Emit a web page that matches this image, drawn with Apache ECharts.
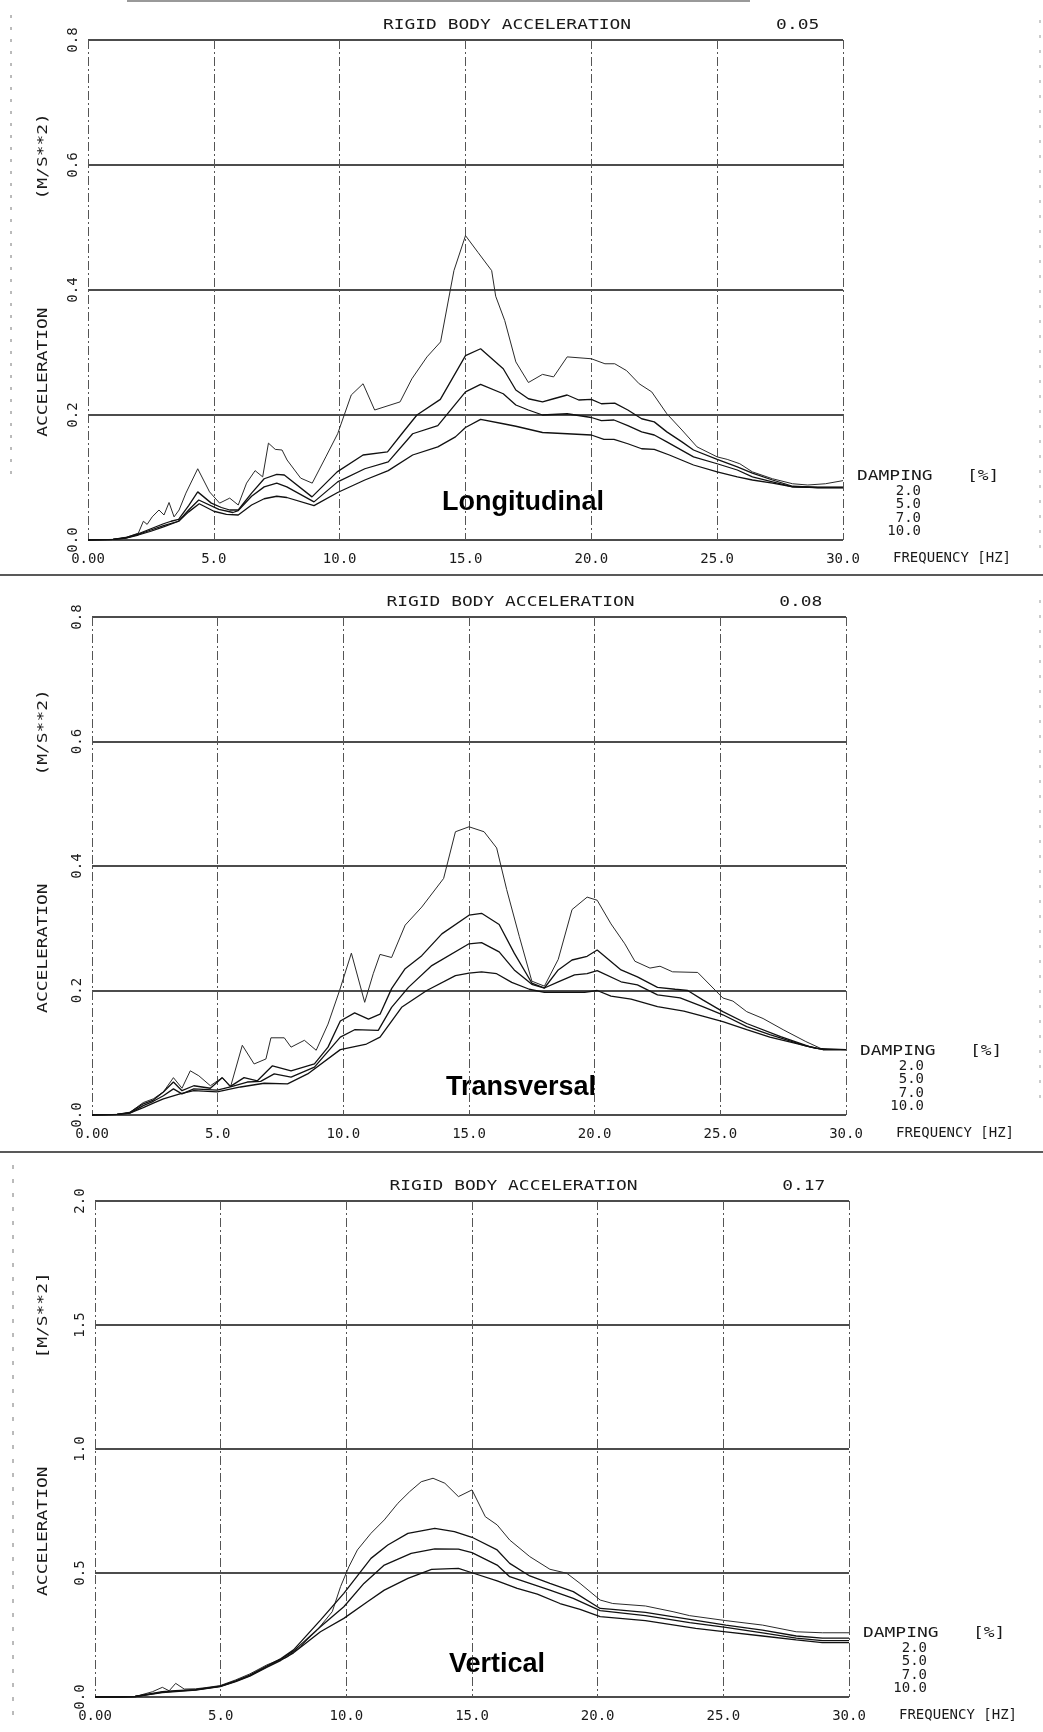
<!DOCTYPE html>
<html lang="en">
<head>
    <meta charset="utf-8">
    <title>Rigid body acceleration</title>
    <script src="https://cdn.jsdelivr.net/npm/echarts@6/dist/echarts.min.js"></script>
    <style>
        body { margin: 0; background: #fff; }
        #main { width: 1043px; height: 1732px; }
    </style>
</head>
<body>
<div id="main"></div>
<script type="text/javascript">
    // tick labels and legend text
    var xTickLabels = ['0.00', '5.0', '10.0', '15.0', '20.0', '25.0', '30.0'];
    var dampingLevels = ['2.0', '5.0', '7.0', '10.0'];
    var chartNames = ['Longitudinal', 'Transversal', 'Vertical'];
    var peakValues = ['0.05', '0.08', '0.17'];
    var yMax = [0.8, 0.8, 2.0];
    var yStep = [0.2, 0.2, 0.5];

    // Longitudinal, [frequency Hz, acceleration m/s2] per damping
    var long2 = [[0,0],[1.0,0.001],[1.5,0.004],[2.0,0.011],[2.2,0.03],[2.35,0.025],[2.55,0.037],[2.82,0.048],[3.02,0.040],[3.22,0.060],[3.42,0.037],[3.62,0.048],[3.89,0.075],[4.36,0.114],[4.83,0.077],[5.23,0.059],[5.63,0.067],[5.97,0.056],[6.3,0.091],[6.64,0.111],[6.94,0.101],[7.17,0.155],[7.44,0.145],[7.71,0.144],[7.91,0.128],[8.45,0.099],[8.91,0.091],[9.45,0.133],[9.92,0.170],[10.46,0.232],[10.93,0.250],[11.39,0.208],[12.4,0.221],[12.87,0.258],[13.47,0.293],[14.01,0.317],[14.54,0.431],[15.0,0.487],[15.5,0.46],[16.04,0.431],[16.2,0.39],[16.56,0.351],[17.0,0.285],[17.5,0.252],[18.06,0.265],[18.5,0.261],[19.04,0.293],[20.0,0.290],[20.54,0.282],[20.93,0.282],[21.4,0.271],[21.9,0.250],[22.4,0.237],[23.0,0.202],[23.6,0.176],[24.2,0.149],[25.0,0.133],[25.4,0.129],[25.9,0.122],[26.4,0.109],[27.2,0.098],[28.0,0.090],[28.6,0.088],[29.3,0.09],[30.0,0.095]];
    var long5 = [[0,0],[1.0,0.001],[1.5,0.004],[2.0,0.010],[2.5,0.018],[3.0,0.026],[3.3,0.03],[3.6,0.033],[4.0,0.055],[4.36,0.077],[4.9,0.059],[5.3,0.052],[5.63,0.048],[5.97,0.048],[6.5,0.075],[7.0,0.098],[7.5,0.105],[7.8,0.104],[8.9,0.069],[9.9,0.109],[10.93,0.136],[11.9,0.141],[12.47,0.170],[13.07,0.200],[14.0,0.225],[15.0,0.295],[15.6,0.306],[16.5,0.274],[17.0,0.240],[17.5,0.226],[18.06,0.221],[18.5,0.226],[19.04,0.232],[19.5,0.224],[20.0,0.225],[20.4,0.218],[20.93,0.219],[21.45,0.208],[22.0,0.194],[22.5,0.189],[23.0,0.173],[23.6,0.157],[24.06,0.144],[25.0,0.129],[25.8,0.117],[26.4,0.107],[27.2,0.096],[28.0,0.086],[29.0,0.084],[30.0,0.084]];
    var long7 = [[0,0],[1.0,0.001],[1.5,0.003],[2.0,0.009],[2.5,0.016],[3.0,0.023],[3.6,0.03],[4.0,0.048],[4.4,0.064],[5.2,0.049],[5.76,0.044],[5.97,0.047],[6.5,0.07],[7.0,0.085],[7.5,0.091],[7.9,0.085],[8.98,0.061],[9.92,0.093],[11.0,0.114],[11.93,0.125],[12.9,0.170],[13.9,0.183],[15.0,0.237],[15.6,0.249],[16.5,0.234],[17.0,0.216],[17.5,0.208],[18.06,0.200],[19.04,0.202],[20.0,0.196],[20.4,0.191],[20.9,0.192],[21.45,0.183],[22.0,0.173],[22.5,0.168],[23.0,0.157],[24.06,0.133],[25.0,0.122],[25.8,0.112],[26.4,0.101],[27.2,0.093],[28.0,0.085],[29.0,0.084],[30.0,0.084]];
    var long10 = [[0,0],[1.0,0.001],[1.5,0.003],[2.0,0.008],[2.5,0.014],[3.0,0.021],[3.6,0.030],[4.0,0.045],[4.42,0.058],[5.0,0.046],[5.5,0.041],[5.97,0.040],[6.5,0.056],[7.0,0.066],[7.5,0.070],[7.9,0.068],[8.98,0.055],[9.92,0.076],[11.0,0.096],[11.93,0.111],[12.9,0.136],[13.9,0.149],[14.6,0.165],[15.0,0.180],[15.6,0.193],[16.5,0.186],[17.0,0.182],[18.06,0.172],[19.04,0.170],[20.0,0.168],[20.5,0.161],[20.9,0.161],[21.45,0.154],[22.0,0.146],[22.5,0.145],[23.1,0.136],[24.06,0.120],[25.0,0.109],[25.8,0.101],[26.4,0.096],[27.2,0.091],[28.0,0.085],[29.0,0.084],[30.0,0.084]];

    // Transversal
    var trans2 = [[0,0],[1.0,0.001],[1.5,0.004],[2.04,0.020],[2.44,0.026],[2.84,0.037],[3.24,0.060],[3.58,0.043],[3.91,0.071],[4.25,0.063],[4.71,0.047],[5.18,0.060],[5.51,0.045],[5.98,0.112],[6.45,0.082],[6.92,0.090],[7.12,0.124],[7.65,0.124],[7.92,0.109],[8.45,0.120],[8.92,0.104],[9.39,0.146],[9.85,0.200],[10.32,0.260],[10.85,0.181],[11.19,0.227],[11.46,0.258],[11.92,0.253],[12.46,0.305],[13.12,0.334],[13.99,0.380],[14.46,0.455],[15.0,0.463],[15.6,0.455],[16.1,0.429],[16.5,0.362],[17.0,0.287],[17.5,0.215],[18.0,0.207],[18.55,0.250],[19.1,0.330],[19.7,0.350],[20.1,0.345],[20.65,0.307],[21.2,0.275],[21.6,0.247],[22.2,0.236],[22.6,0.239],[23.1,0.230],[24.1,0.229],[25.1,0.188],[25.5,0.183],[26.05,0.166],[26.7,0.155],[27.5,0.137],[28.4,0.118],[29.1,0.105],[30.0,0.105]];
    var trans5 = [[0,0],[1.0,0.001],[1.5,0.004],[2.04,0.018],[2.44,0.024],[2.84,0.037],[3.24,0.053],[3.58,0.039],[4.05,0.047],[4.71,0.043],[5.18,0.060],[5.51,0.046],[6.05,0.060],[6.58,0.055],[7.18,0.079],[7.92,0.071],[8.85,0.082],[9.39,0.109],[9.88,0.151],[10.45,0.164],[11.0,0.154],[11.46,0.162],[11.92,0.203],[12.46,0.235],[13.12,0.256],[13.92,0.291],[15.0,0.321],[15.5,0.324],[16.2,0.306],[16.8,0.260],[17.5,0.212],[18.0,0.204],[18.55,0.233],[19.1,0.249],[19.7,0.255],[20.1,0.265],[21.05,0.233],[21.7,0.222],[22.5,0.205],[23.2,0.202],[23.7,0.200],[24.3,0.185],[25.1,0.166],[26.05,0.147],[27.4,0.126],[28.55,0.110],[29.1,0.105],[30.0,0.105]];
    var trans7 = [[0,0],[1.0,0.001],[1.5,0.003],[2.04,0.015],[2.44,0.022],[2.84,0.031],[3.24,0.042],[3.58,0.034],[4.05,0.042],[4.98,0.040],[5.51,0.045],[6.18,0.053],[6.71,0.054],[7.25,0.066],[7.92,0.061],[8.85,0.077],[9.88,0.125],[10.45,0.137],[11.39,0.136],[11.92,0.173],[12.59,0.205],[13.52,0.240],[15.0,0.275],[15.5,0.277],[16.2,0.262],[16.8,0.233],[17.5,0.210],[18.0,0.204],[18.55,0.214],[19.2,0.225],[19.7,0.227],[20.1,0.232],[21.05,0.214],[21.7,0.209],[22.5,0.193],[23.4,0.188],[24.3,0.174],[25.1,0.161],[26.05,0.142],[26.97,0.129],[28.4,0.111],[29.1,0.105],[30.0,0.105]];
    var trans10 = [[0,0],[1.0,0.001],[1.5,0.003],[2.04,0.012],[2.44,0.019],[2.84,0.026],[3.5,0.034],[4.05,0.039],[4.98,0.037],[5.91,0.045],[6.85,0.051],[7.78,0.050],[8.58,0.066],[9.88,0.105],[10.92,0.114],[11.46,0.125],[12.32,0.173],[13.32,0.200],[14.46,0.224],[15.0,0.228],[15.5,0.230],[16.1,0.227],[16.7,0.213],[17.4,0.202],[18.0,0.197],[18.8,0.197],[19.6,0.197],[20.1,0.200],[20.65,0.191],[21.45,0.186],[22.5,0.174],[23.55,0.167],[24.3,0.159],[25.1,0.150],[26.05,0.137],[26.97,0.125],[28.0,0.115],[28.8,0.107],[30.0,0.105]];

    // Vertical
    var vert2 = [[0,0],[1.0,0.0],[1.6,0.002],[2.28,0.021],[2.68,0.039],[2.95,0.025],[3.21,0.055],[3.55,0.032],[4.0,0.033],[4.42,0.038],[4.98,0.046],[5.6,0.069],[6.16,0.093],[6.83,0.129],[7.23,0.146],[7.63,0.160],[8.17,0.203],[8.84,0.270],[9.44,0.344],[9.77,0.445],[10.1,0.525],[10.44,0.593],[10.98,0.660],[11.51,0.714],[12.05,0.781],[12.52,0.828],[12.98,0.868],[13.45,0.882],[13.92,0.862],[14.46,0.808],[15.0,0.835],[15.53,0.727],[16.0,0.694],[16.5,0.633],[17.3,0.566],[18.1,0.515],[18.77,0.499],[19.3,0.458],[20.1,0.391],[20.6,0.377],[21.9,0.367],[23.0,0.344],[23.66,0.328],[25.1,0.308],[26.56,0.290],[27.9,0.263],[28.94,0.259],[30.0,0.259]];
    var vert5 = [[0,0],[1.0,0.0],[1.6,0.002],[2.28,0.015],[2.68,0.022],[3.21,0.026],[4.0,0.030],[4.98,0.044],[5.6,0.065],[6.16,0.088],[6.83,0.125],[7.4,0.155],[7.9,0.190],[8.97,0.310],[9.9,0.418],[10.98,0.559],[11.65,0.613],[12.45,0.660],[13.52,0.680],[14.3,0.667],[15.0,0.644],[16.0,0.593],[16.5,0.539],[17.3,0.488],[18.1,0.458],[19.03,0.425],[20.1,0.357],[20.6,0.353],[21.9,0.341],[23.66,0.313],[25.1,0.290],[26.56,0.270],[27.9,0.246],[28.94,0.237],[30.0,0.237]];
    var vert7 = [[0,0],[1.0,0.0],[1.6,0.002],[2.28,0.013],[2.68,0.02],[3.21,0.024],[4.0,0.029],[4.98,0.043],[5.6,0.064],[6.16,0.086],[6.83,0.122],[7.4,0.152],[7.9,0.185],[8.97,0.283],[9.9,0.364],[10.7,0.458],[11.51,0.532],[12.58,0.579],[13.52,0.597],[14.46,0.596],[15.0,0.582],[16.0,0.532],[16.5,0.485],[17.3,0.458],[18.1,0.431],[19.03,0.398],[20.1,0.348],[21.9,0.328],[23.66,0.300],[25.1,0.281],[26.56,0.259],[27.9,0.237],[28.94,0.227],[30.0,0.227]];
    var vert10 = [[0,0],[1.0,0.0],[1.6,0.002],[2.28,0.012],[2.68,0.018],[3.21,0.022],[4.0,0.028],[4.98,0.042],[5.6,0.062],[6.16,0.084],[6.83,0.119],[7.4,0.148],[7.9,0.178],[8.97,0.263],[9.9,0.317],[10.84,0.384],[11.51,0.431],[12.45,0.478],[13.39,0.515],[14.46,0.519],[15.0,0.501],[16.0,0.468],[16.8,0.438],[17.6,0.415],[18.5,0.377],[19.3,0.353],[20.1,0.324],[21.9,0.308],[23.9,0.277],[25.1,0.263],[26.56,0.246],[27.9,0.230],[28.94,0.219],[30.0,0.219]];

    var curves = [
        [long2, long5, long7, long10],
        [trans2, trans5, trans7, trans10],
        [vert2, vert5, vert7, vert10]
    ];

    var MONO = '"DejaVu Sans Mono", "Liberation Mono", monospace';
    var INK = '#1a1a1a';

    // plot areas, page layout of the scanned sheet
    var grids = [
        {left: 88, top: 40, width: 755, height: 500},
        {left: 92, top: 617, width: 754, height: 498},
        {left: 95, top: 1201, width: 754, height: 496}
    ];

    function plotterText(x, y, text, align, rot) {
        return {
            type: 'text', x: x, y: y, rotation: rot || 0, scaleX: 1.28, silent: true,
            style: {text: text, font: '14px ' + MONO, fill: INK, align: align || 'center', verticalAlign: 'middle'}
        };
    }

    var xAxes = [], yAxes = [], series = [], graphics = [];

    for (var i = 0; i < 3; i++) {
        var g = grids[i];
        xAxes.push({
            type: 'value', gridIndex: i, min: 0, max: 30, interval: 5,
            axisLine: {show: false}, axisTick: {show: false},
            axisLabel: {
                showMinLabel: true, showMaxLabel: true, margin: 12,
                fontFamily: MONO, fontSize: 14, color: INK,
                formatter: function (v) { return xTickLabels[Math.round(v / 5)]; }
            },
            splitLine: {show: true, lineStyle: {color: '#555', width: 1, type: [9, 3, 2, 3]}},
            name: 'FREQUENCY [HZ]', nameLocation: 'end', nameGap: 50,
            nameTextStyle: {fontFamily: MONO, fontSize: 14, color: INK, align: 'left', verticalAlign: 'top', padding: [11, 0, 0, 0]}
        });
        yAxes.push({
            type: 'value', gridIndex: i, min: 0, max: yMax[i], interval: yStep[i],
            axisLine: {show: false}, axisTick: {show: false},
            axisLabel: {
                showMinLabel: true, showMaxLabel: true, rotate: 90, margin: 8,
                fontFamily: MONO, fontSize: 14, color: INK,
                formatter: function (v) { return v.toFixed(1); }
            },
            splitLine: {show: true, lineStyle: {color: '#111', width: 1.5}}
        });
        for (var k = 0; k < 4; k++) {
            series.push({
                name: dampingLevels[k], type: 'line', xAxisIndex: i, yAxisIndex: i,
                data: curves[i][k], showSymbol: false, silent: true,
                lineStyle: {color: k === 0 ? '#2a2a2a' : '#111', width: k === 0 ? 1 : 1.3}
            });
        }

        // title line above each plot
        var cx = g.left + g.width * 0.555;
        graphics.push(plotterText(cx, g.top - 15, 'RIGID BODY ACCELERATION'));
        graphics.push(plotterText(g.left + g.width * 0.94, g.top - 15, peakValues[i]));

        // rotated axis name
        graphics.push(plotterText(43, g.top + g.height * 0.47, 'ACCELERATION          ' + (i < 2 ? '(M/S**2)' : '[M/S**2]'), 'center', Math.PI / 2));

        // damping legend
        var lx = g.left + g.width + 14, ly = g.top + g.height - 64;
        graphics.push(plotterText(lx, ly, 'DAMPING', 'left'));
        graphics.push(plotterText(lx + 110, ly, '[%]', 'left'));
        for (var d = 0; d < dampingLevels.length; d++) {
            graphics.push({
                type: 'text', x: lx + 64, y: ly + 15 + d * 13.5, silent: true,
                style: {text: dampingLevels[d], font: '14px ' + MONO, fill: INK, align: 'right', verticalAlign: 'middle'}
            });
        }
    }

    // big bold direction labels
    var labelPos = [[523, 503], [521, 1088], [497, 1665]];
    for (var n = 0; n < 3; n++) {
        graphics.push({
            type: 'text', x: labelPos[n][0], y: labelPos[n][1], silent: true,
            style: {text: chartNames[n], font: 'bold 27px "Liberation Sans", Arial, sans-serif', fill: '#000', align: 'center', verticalAlign: 'middle'}
        });
    }

    // sheet edges and cut lines from the scan
    function edge(x1, y1, x2, y2, color, w, dash) {
        return {type: 'line', silent: true, shape: {x1: x1, y1: y1, x2: x2, y2: y2},
            style: {stroke: color, lineWidth: w, lineDash: dash || null}};
    }
    graphics.push(edge(127, 1, 750, 1, '#999', 2));
    graphics.push(edge(0, 575, 1043, 575, '#222', 1.5));
    graphics.push(edge(0, 1152, 1043, 1152, '#222', 1.5));
    graphics.push(edge(11, 15, 11, 480, '#777', 1, [3, 9]));
    graphics.push(edge(13, 1165, 13, 1725, '#777', 1, [4, 10]));
    graphics.push(edge(1040, 20, 1040, 560, '#999', 1, [3, 12]));
    graphics.push(edge(1040, 600, 1040, 1110, '#999', 1, [3, 12]));

    var myChart = echarts.init(document.getElementById('main'), null, {renderer: 'canvas'});
    myChart.setOption({
        animation: false,
        backgroundColor: '#fff',
        grid: grids,
        xAxis: xAxes,
        yAxis: yAxes,
        series: series,
        graphic: graphics
    });
</script>
</body>
</html>
